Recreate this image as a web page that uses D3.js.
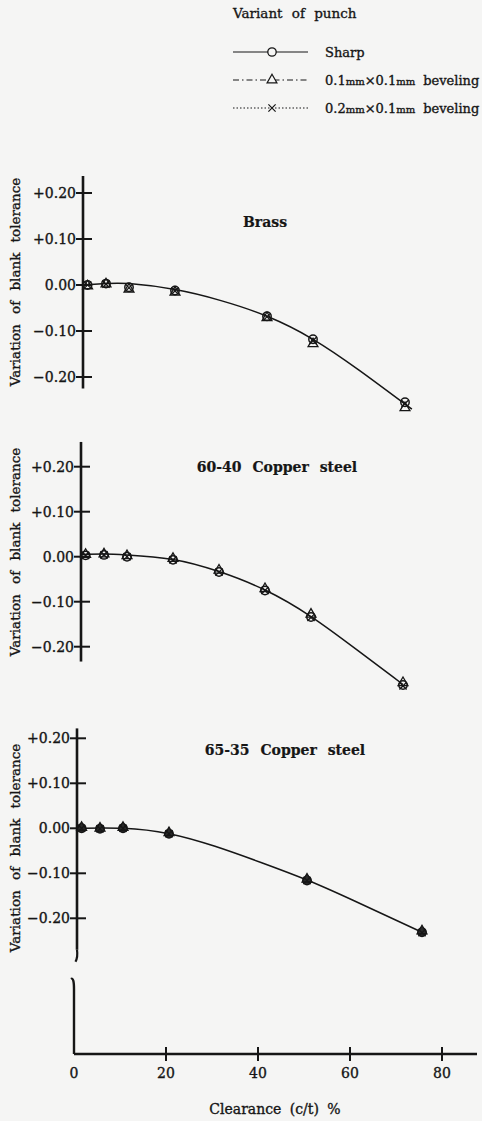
<!DOCTYPE html>
<html>
<head>
<meta charset="utf-8">
<script src="https://cdn.jsdelivr.net/npm/d3@7"></script>
<style>
  html, body { margin: 0; padding: 0; background: #f5f5f4; }
  svg { display: block; }
  text { fill: #161616; stroke: #161616; stroke-width: 0.35px; font-family: "DejaVu Serif", "Liberation Serif", serif; }
</style>
</head>
<body>
<svg id="chart" width="482" height="1121"></svg>
<script>
// clearance (c/t) % of each measured point
const brassClearance = [1, 5, 10, 20, 40, 50, 70];
const brassSharp   = [0.000, 0.003, -0.005, -0.012, -0.068, -0.118, -0.255];
const brassBevel01 = [-0.002, 0.002, -0.009, -0.016, -0.071, -0.128, -0.267];
const brassBevel02 = [0.000, 0.002, -0.006, -0.013, -0.069, -0.121, -0.258];
const brassCurveC  = [0, 5, 10, 20, 30, 40, 50, 60, 71.5];
const brassCurveV  = [0.000, 0.003, 0.003, -0.010, -0.034, -0.068, -0.118, -0.185, -0.270];

const cu6040Clearance = [1, 5, 10, 20, 30, 40, 50, 70];
const cu6040Sharp   = [0.003, 0.004, 0.000, -0.007, -0.034, -0.075, -0.134, -0.285];
const cu6040Bevel01 = [0.005, 0.006, 0.002, -0.004, -0.030, -0.071, -0.128, -0.280];
const cu6040Bevel02 = [0.003, 0.004, 0.000, -0.007, -0.034, -0.075, -0.135, -0.287];
const cu6040CurveC  = [0, 5, 10, 20, 30, 40, 50, 60, 70];
const cu6040CurveV  = [0.005, 0.006, 0.004, -0.006, -0.033, -0.074, -0.133, -0.207, -0.284];

const cu6535Clearance = [1, 5, 10, 20, 50, 75];
const cu6535Sharp   = [0.000, -0.001, 0.000, -0.012, -0.116, -0.231];
const cu6535Bevel01 = [0.002, 0.000, 0.002, -0.010, -0.113, -0.228];
const cu6535Bevel02 = [0.000, -0.001, 0.000, -0.012, -0.116, -0.232];
const cu6535CurveC  = [0, 10, 20, 30, 40, 50, 60, 75];
const cu6535CurveV  = [0.000, 0.000, -0.012, -0.040, -0.076, -0.115, -0.160, -0.231];

const yTicks = [0.2, 0.1, 0, -0.1, -0.2];
const yTickLabels = ["+0.20", "+0.10", "0.00", "\u22120.10", "\u22120.20"];
const xTicks = [0, 20, 40, 60, 80];
const legendSizes = ["0.1", "0.2"];

const svg = d3.select("#chart");
const ink = "#161616";
const paper = "#f5f5f4";

// the scan is slightly skewed, so every panel gets its own axis x
const panels = [
  { title: "Brass", c: brassClearance, series: [brassSharp, brassBevel01, brassBevel02],
    curveC: brassCurveC, curveV: brassCurveV, axisX: 83, yRange: [377, 193],
    axisTop: 0.237, axisBottom: -0.225, titleX: 265, titleY: 227, labelY: 282, filled: false },
  { title: "60-40 Copper steel", c: cu6040Clearance, series: [cu6040Sharp, cu6040Bevel01, cu6040Bevel02],
    curveC: cu6040CurveC, curveV: cu6040CurveV, axisX: 81, yRange: [646.7, 466.7],
    axisTop: 0.255, axisBottom: -0.233, titleX: 277, titleY: 472, labelY: 552, filled: false },
  { title: "65-35 Copper steel", c: cu6535Clearance, series: [cu6535Sharp, cu6535Bevel01, cu6535Bevel02],
    curveC: cu6535CurveC, curveV: cu6535CurveV, axisX: 77, yRange: [918.3, 738.3],
    axisTop: 0.222, axisBottom: -0.27, titleX: 285, titleY: 755, labelY: 848, filled: true }
];

const x = d3.scaleLinear().domain([0, 80]).range([0, 368]);

const crossPath = "M-3.6,-3.6L3.6,3.6M-3.6,3.6L3.6,-3.6";
const triPath = d3.symbol(d3.symbolTriangle, 42)();

function drawMarkers(g, cs, vals, kind, y, filled) {
  const pts = g.append("g").selectAll("g")
    .data(cs.map((c, i) => [c, vals[i]]))
    .enter().append("g")
    .attr("transform", d => `translate(${x(d[0])},${y(d[1])})`);
  if (kind === 0) {
    pts.append("circle").attr("r", 4.2)
      .attr("fill", filled ? "#2a2a2a" : "none")
      .attr("stroke", ink).attr("stroke-width", 1.5);
  } else if (kind === 1) {
    pts.append("path").attr("d", triPath)
      .attr("fill", filled ? "#2a2a2a" : "none")
      .attr("stroke", ink).attr("stroke-width", 1.3);
  } else {
    pts.append("path").attr("d", crossPath)
      .attr("fill", "none").attr("stroke", ink).attr("stroke-width", 1.3);
  }
}

panels.forEach((p, pi) => {
  const y = d3.scaleLinear().domain([-0.2, 0.2]).range(p.yRange);
  const g = svg.append("g").attr("transform", `translate(${p.axisX},0)`);

  // vertical axis line
  const yEnd = y(p.axisBottom);
  g.append("line")
    .attr("x1", 0).attr("x2", 0)
    .attr("y1", y(p.axisTop)).attr("y2", yEnd)
    .attr("stroke", ink).attr("stroke-width", 2.6);

  // ticks crossing the axis
  g.append("g").selectAll("line")
    .data(yTicks).enter().append("line")
    .attr("x1", -7).attr("x2", 9)
    .attr("y1", d => y(d)).attr("y2", d => y(d))
    .attr("stroke", ink).attr("stroke-width", 2);

  g.append("g").selectAll("text")
    .data(yTicks).enter().append("text")
    .attr("x", -7).attr("y", d => y(d))
    .attr("dy", "0.36em")
    .attr("text-anchor", "end")
    .style("font-size", "14px")
    .text((d, i) => yTickLabels[i]);

  // fitted curve
  const line = d3.line()
    .x(d => x(d[0])).y(d => y(d[1]))
    .curve(d3.curveNatural);
  g.append("path")
    .datum(p.curveC.map((c, i) => [c, p.curveV[i]]))
    .attr("d", line)
    .attr("fill", "none")
    .attr("stroke", ink).attr("stroke-width", 1.5);

  p.series.forEach((vals, k) => drawMarkers(g, p.c, vals, k, y, p.filled));

  // panel title
  svg.append("text")
    .attr("x", p.titleX).attr("y", p.titleY)
    .attr("text-anchor", "middle")
    .style("font-size", "14px").style("font-weight", "bold")
    .style("stroke-width", "0.2px")
    .style("word-spacing", "6px")
    .text(p.title);

  // y axis title
  svg.append("text")
    .attr("transform", `translate(20,${p.labelY}) rotate(-90)`)
    .attr("text-anchor", "middle")
    .style("font-size", "13.5px")
    .style("word-spacing", "6px")
    .text("Variation of blank tolerance");

  if (pi === 2) {
    // broken axis down to the clearance axis
    g.append("path")
      .attr("d", `M0,${yEnd} q1,7 -1.5,12`)
      .attr("fill", "none").attr("stroke", ink).attr("stroke-width", 2.2);
  }
});

// lower part of the broken y axis and clearance axis
const baseY = 1054;
const base = svg.append("g").attr("transform", `translate(74,${baseY})`);
base.append("path")
  .attr("d", "M-3,-75 q3,-2 3,10 V0")
  .attr("fill", "none").attr("stroke", ink).attr("stroke-width", 2.4);

base.append("line")
  .attr("x1", 0).attr("x2", 403).attr("y1", 0).attr("y2", 0)
  .attr("stroke", ink).attr("stroke-width", 2.6);

base.append("g").selectAll("line")
  .data(xTicks.filter(d => d > 0)).enter().append("line")
  .attr("x1", d => x(d)).attr("x2", d => x(d))
  .attr("y1", -7).attr("y2", 7)
  .attr("stroke", ink).attr("stroke-width", 2);

base.append("g").selectAll("text")
  .data(xTicks).enter().append("text")
  .attr("x", d => x(d)).attr("y", 24)
  .attr("text-anchor", "middle")
  .style("font-size", "14px")
  .text(d => d);

svg.append("text")
  .attr("x", 275).attr("y", 1114)
  .attr("text-anchor", "middle")
  .style("font-size", "14px")
  .style("word-spacing", "4px")
  .text("Clearance (c/t) %");

// legend
const legend = svg.append("g");
legend.append("text")
  .attr("x", 233).attr("y", 18)
  .style("font-size", "13.5px")
  .style("word-spacing", "5px")
  .text("Variant of punch");

const legendRowY = [52, 80, 108];
const dashes = [null, "6,3,1.5,3", "1.5,2"];
legendRowY.forEach((ry, k) => {
  const row = legend.append("g").attr("transform", `translate(0,${ry})`);
  row.append("line")
    .attr("x1", 233).attr("x2", 308).attr("y1", 0).attr("y2", 0)
    .attr("stroke", ink).attr("stroke-width", 1.2)
    .attr("stroke-dasharray", dashes[k]);
  const m = row.append("g").attr("transform", "translate(272,0)");
  if (k === 0) m.append("circle").attr("r", 4.2).attr("fill", paper).attr("stroke", ink).attr("stroke-width", 1.3);
  else if (k === 1) m.append("path").attr("d", triPath).attr("fill", paper).attr("stroke", ink).attr("stroke-width", 1.2);
  else m.append("path").attr("d", crossPath).attr("fill", "none").attr("stroke", ink).attr("stroke-width", 1.2);
  const t = row.append("text")
    .attr("x", 325).attr("y", 5)
    .style("font-size", "13px");
  if (k === 0) {
    t.text("Sharp");
  } else {
    // the "mm" unit is set small, as in the print
    t.append("tspan").text(legendSizes[k - 1]);
    t.append("tspan").style("font-size", "10px").text("mm");
    t.append("tspan").text("\u00d70.1");
    t.append("tspan").style("font-size", "10px").text("mm");
    t.append("tspan").attr("dx", 8).text("beveling");
  }
});
</script>
</body>
</html>
